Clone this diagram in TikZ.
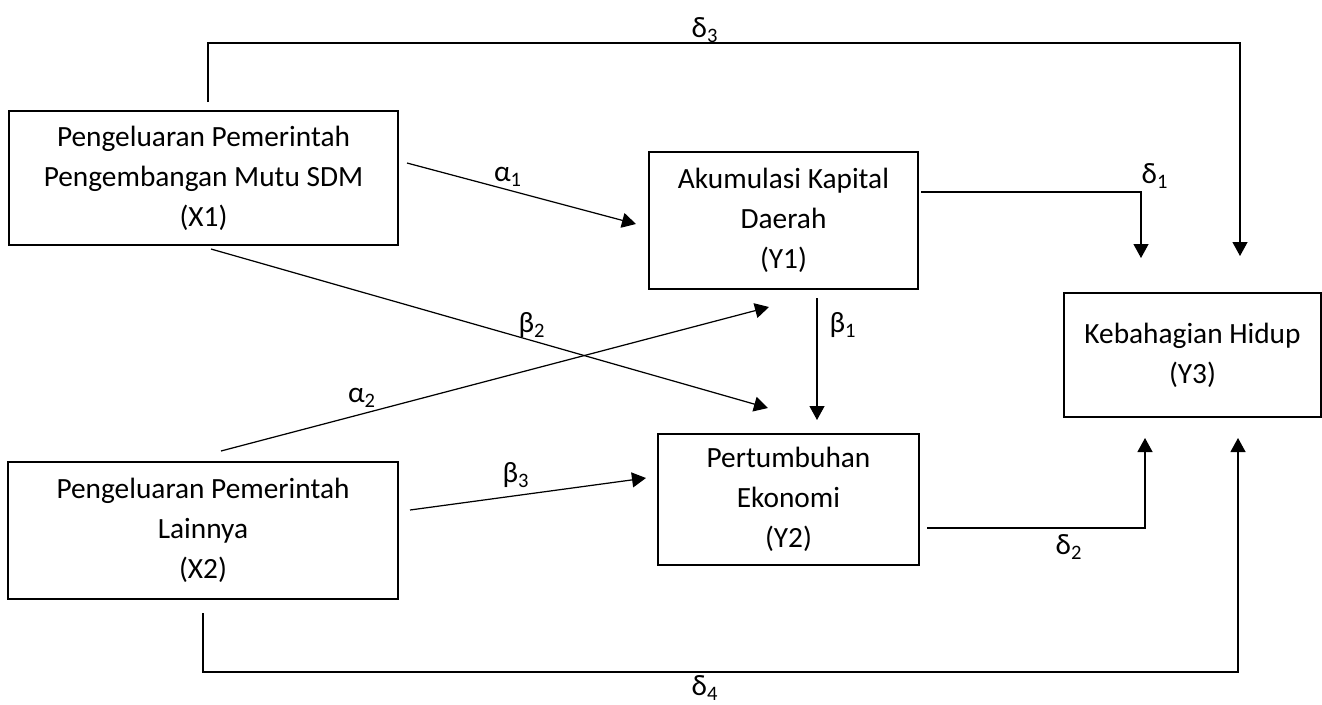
\documentclass[tikz,border=0pt]{standalone}
\usepackage{fontspec}
\setmainfont{Carlito}
\usetikzlibrary{arrows.meta}
\tikzset{
	box/.style={draw=black, line width=0.7pt, align=center, inner sep=0pt, font=\fontsize{16.7}{22.8}\selectfont},
	conn/.style={draw=black, line width=0.7pt},
	arr/.style={conn, -{Triangle[length=0.28cm, width=0.3cm]}},
	lbl/.style={font=\fontsize{16.7}{18}\selectfont, inner sep=0pt},
}
\begin{document}
\begin{tikzpicture}[x=0.02cm, y=-0.02cm]
		\useasboundingbox (0,0) rectangle (1322,704);
		% boxes
		\node[box, minimum width=7.78cm, minimum height=2.68cm] (x1) at (203.5,178) {Pengeluaran Pemerintah\\Pengembangan Mutu SDM\\(X1)};
		\node[box, minimum width=7.8cm, minimum height=2.74cm] (x2) at (203,530.5) {Pengeluaran Pemerintah\\Lainnya\\(X2)};
		\node[box, minimum width=5.38cm, minimum height=2.74cm] (y1) at (783.5,220.5) {Akumulasi Kapital\\Daerah\\(Y1)};
		\node[box, minimum width=5.22cm, minimum height=2.62cm] (y2) at (788.5,499.5) {Pertumbuhan\\Ekonomi\\(Y2)};
		\node[box, minimum width=5.14cm, minimum height=2.48cm] (y3) at (1192.5,355) {Kebahagian Hidup\\(Y3)};
		% end points of the connectors
		\coordinate (a1s) at (407,163);
		\coordinate (a1e) at (636,224);
		\coordinate (a2s) at (221,451);
		\coordinate (a2e) at (769,307);
		\coordinate (b1s) at (817,298);
		\coordinate (b1e) at (817,420);
		\coordinate (b2s) at (211,249);
		\coordinate (b2e) at (768,408);
		\coordinate (b3s) at (410,510);
		\coordinate (b3e) at (646,478);
		\coordinate (d1s) at (921,192);
		\coordinate (d1k) at (1141,192);
		\coordinate (d1e) at (1141,258);
		\coordinate (d2s) at (927,528);
		\coordinate (d2k) at (1145,528);
		\coordinate (d2e) at (1145,438);
		\coordinate (d3s) at (208,102);
		\coordinate (d3a) at (208,43);
		\coordinate (d3b) at (1240,43);
		\coordinate (d3e) at (1240,256);
		\coordinate (d4s) at (203,613);
		\coordinate (d4a) at (203,672);
		\coordinate (d4b) at (1238,672);
		\coordinate (d4e) at (1238,438);
		% connectors
		\draw[arr] (a1s) -- (a1e);
		\draw[arr] (a2s) -- (a2e);
		\draw[arr] (b1s) -- (b1e);
		\draw[arr] (b2s) -- (b2e);
		\draw[arr] (b3s) -- (b3e);
		\draw[arr] (d1s) -- (d1k) -- (d1e);
		\draw[arr] (d2s) -- (d2k) -- (d2e);
		\draw[arr] (d3s) -- (d3a) -- (d3b) -- (d3e);
		\draw[arr] (d4s) -- (d4a) -- (d4b) -- (d4e);
		% labels
		\node[lbl] (la1) at (508,177) {α\textsubscript{1}};
		\node[lbl] (la2) at (362,398) {α\textsubscript{2}};
		\node[lbl] (lb1) at (843,325) {β\textsubscript{1}};
		\node[lbl] (lb2) at (532,325) {β\textsubscript{2}};
		\node[lbl] (lb3) at (516,475) {β\textsubscript{3}};
		\node[lbl] (ld1) at (1155,176) {δ\textsubscript{1}};
		\node[lbl] (ld2) at (1069,547) {δ\textsubscript{2}};
		\node[lbl] (ld3) at (705,30) {δ\textsubscript{3}};
		\node[lbl] (ld4) at (705,688) {δ\textsubscript{4}};
\end{tikzpicture}
\end{document}
